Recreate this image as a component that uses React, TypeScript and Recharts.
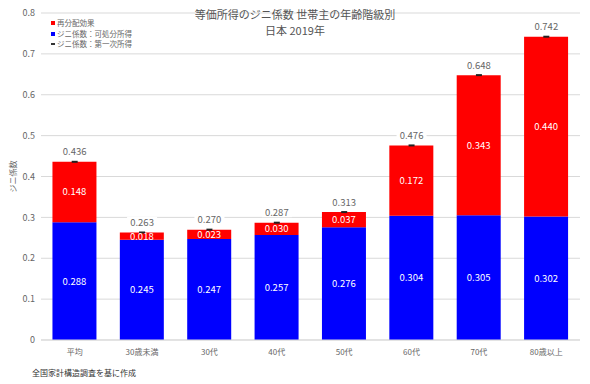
import React from 'react'
import { ComposedChart, Bar, Line, XAxis, YAxis, CartesianGrid, LabelList } from 'recharts'

const CATEGORIES = ['平均', '30歳未満', '30代', '40代', '50代', '60代', '70代', '80歳以上']
const DISPOSABLE = [0.288, 0.245, 0.247, 0.257, 0.276, 0.304, 0.305, 0.302]
const REDISTRIBUTION = [0.148, 0.018, 0.023, 0.03, 0.037, 0.172, 0.343, 0.44]
const PRIMARY = [0.436, 0.263, 0.27, 0.287, 0.313, 0.476, 0.648, 0.742]
const Y_TICKS = [0, 0.1, 0.2, 0.3, 0.4, 0.5, 0.6, 0.7, 0.8]

const FONT = '"Noto Sans CJK JP", "Noto Sans", sans-serif'
const GRAY = '#666'

const data = CATEGORIES.map((name, i) => ({
  name,
  disposable: DISPOSABLE[i],
  redistribution: REDISTRIBUTION[i],
  primary: PRIMARY[i],
}))

const LEGEND = [
  { label: '再分配効果', color: '#ff0000', dash: false },
  { label: 'ジニ係数：可処分所得', color: '#0000ff', dash: false },
  { label: 'ジニ係数：第一次所得', color: '#333', dash: true },
]

const fmt = (v: any) => Number(v).toFixed(3)

const TopDash = (props: any) => {
  const { cx, cy } = props
  if (cx == null || cy == null) return null
  return <rect x={cx - 3} y={cy - 1} width={6} height={2} fill="#222" />
}

const TotalLabel = (props: any) => {
  const { x, y, value } = props
  const ty = y - 10.5
  return (
    <g>
      <rect x={x - 15} y={ty - 5} width={30} height={10} fill="#fff" />
      <text x={x} y={ty} fill={GRAY} fontSize={9.5} fontFamily={FONT} textAnchor="middle" dominantBaseline="central">
        {fmt(value)}
      </text>
    </g>
  )
}

export default function App() {
  return (
    <div style={{ position: 'absolute', left: 0, top: 0, width: 590, height: 384, background: '#fff', fontFamily: FONT }}>
      <ComposedChart
        width={590}
        height={384}
        data={data}
        margin={{ top: 13, right: 10, bottom: 0, left: 0 }}
        barCategoryGap="17%"
      >
        <CartesianGrid vertical={false} stroke="#d9d9d9" />
        <XAxis
          dataKey="name"
          height={44}
          axisLine={{ stroke: '#d9d9d9' }}
          tickLine={false}
          tickMargin={3}
          tick={{ fontSize: 8, fill: GRAY, fontFamily: FONT }}
        />
        <YAxis
          width={41}
          domain={[0, 0.8]}
          ticks={Y_TICKS}
          tickFormatter={(v) => (v === 0 ? '0' : String(v))}
          axisLine={false}
          tickLine={false}
          tickSize={0}
          tickMargin={6}
          tick={{ fontSize: 9, fill: GRAY, fontFamily: FONT }}
          label={{ value: 'ジニ係数', angle: -90, position: 'insideLeft', offset: 13, fill: GRAY, fontSize: 8, fontFamily: FONT, style: { textAnchor: 'middle' } }}
        />
        <Bar dataKey="disposable" stackId="a" fill="#0000ff" isAnimationActive={false}>
          <LabelList dataKey="disposable" position="center" formatter={fmt} fill="#fff" fontSize={9.5} fontFamily={FONT} />
        </Bar>
        <Bar dataKey="redistribution" stackId="a" fill="#ff0000" isAnimationActive={false}>
          <LabelList dataKey="redistribution" position="center" formatter={fmt} fill="#fff" fontSize={9.5} fontFamily={FONT} />
        </Bar>
        <Line dataKey="primary" stroke="none" dot={<TopDash />} activeDot={false} isAnimationActive={false}>
          <LabelList dataKey="primary" content={<TotalLabel />} />
        </Line>
      </ComposedChart>

      <div style={{ position: 'absolute', left: 0, width: 590, top: 6, textAlign: 'center', color: '#555', fontSize: 11, lineHeight: '16px' }}>
        <div>等価所得のジニ係数 世帯主の年齢階級別</div>
        <div>日本 2019年</div>
      </div>

      <div style={{ position: 'absolute', left: 51, top: 18, color: GRAY, fontSize: 7.5, lineHeight: '10.5px' }}>
        {LEGEND.map((item) => (
          <div key={item.label} style={{ display: 'flex', alignItems: 'center' }}>
            <span
              style={{
                display: 'inline-block',
                width: 4,
                height: item.dash ? 2 : 4,
                background: item.color,
                marginRight: 2,
              }}
            />
            {item.label}
          </div>
        ))}
      </div>

      <div style={{ position: 'absolute', left: 32, top: 367, color: '#333', fontSize: 8 }}>全国家計構造調査を基に作成</div>
    </div>
  )
}
